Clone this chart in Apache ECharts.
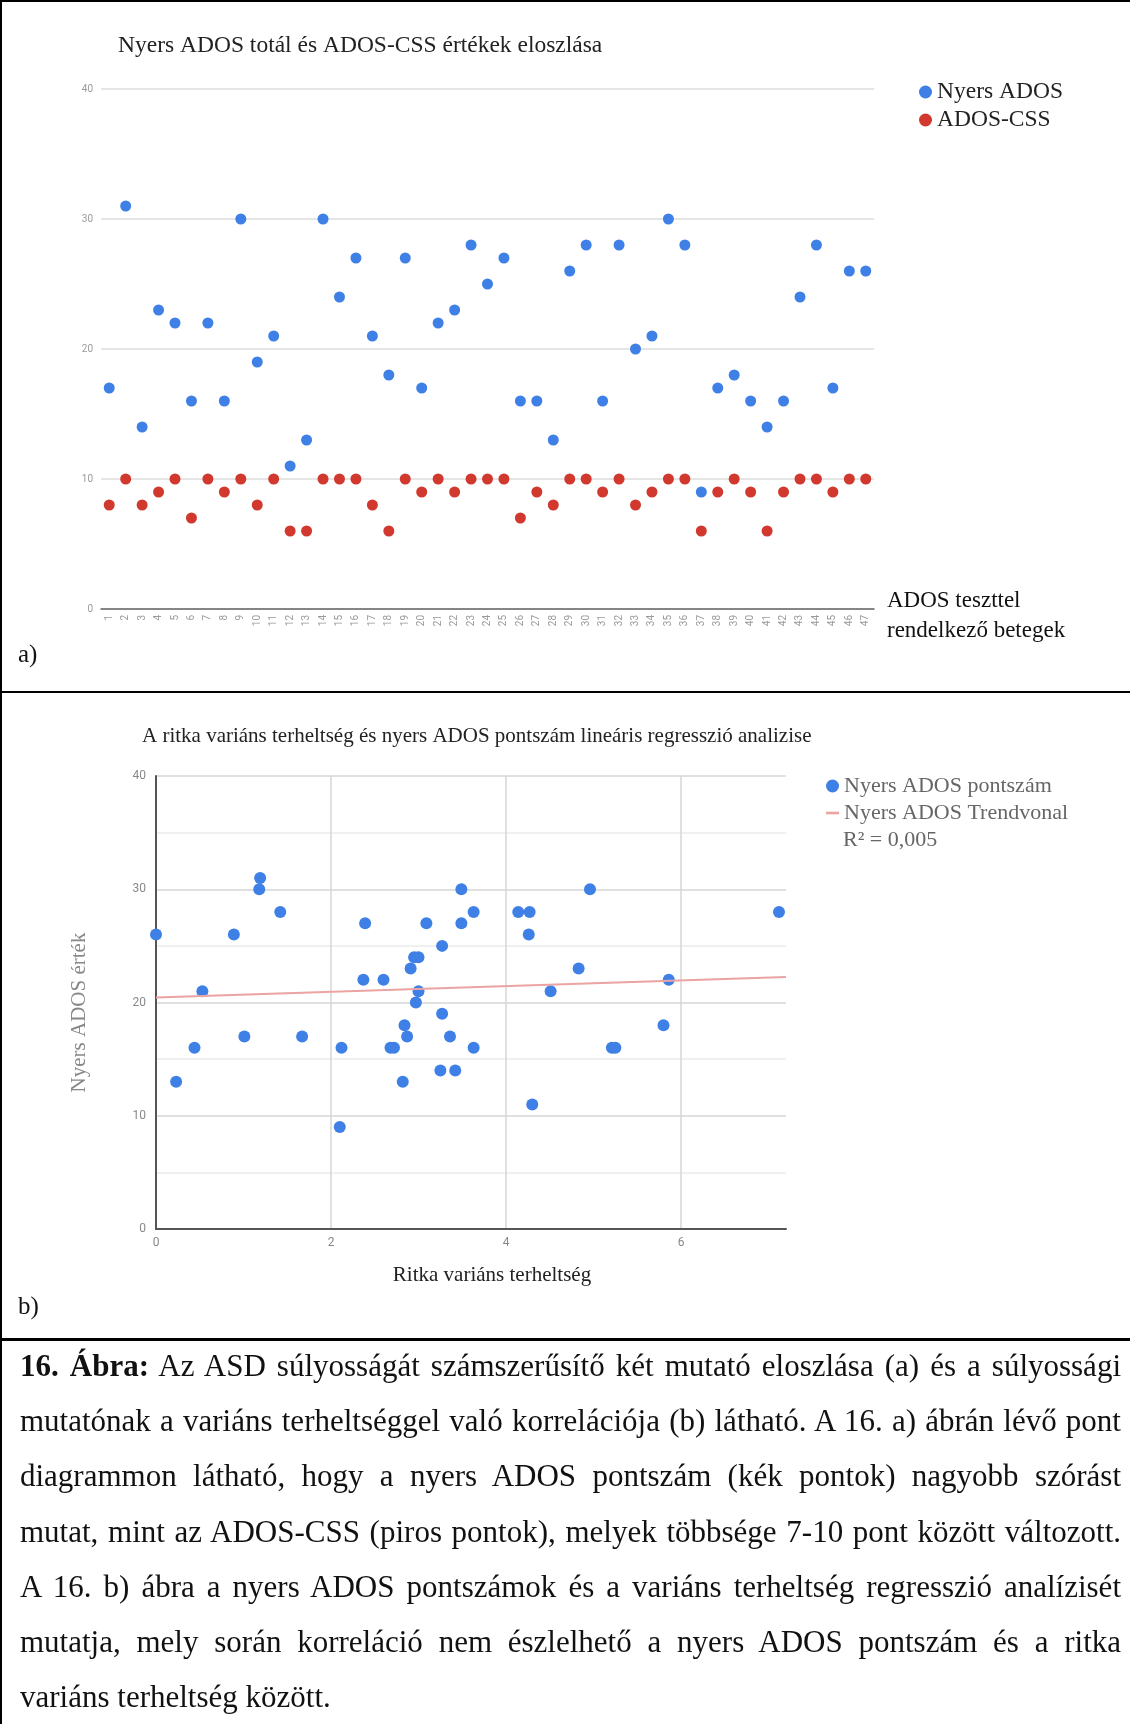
<!DOCTYPE html>
<html>
<head>
<meta charset="utf-8">
<script src="https://cdn.jsdelivr.net/npm/echarts@6/dist/echarts.min.js"></script>
<style>
  body { margin: 0; background: #fff; }
  .page { position: relative; width: 1130px; height: 1724px; overflow: hidden; }
  .chart { position: absolute; left: 0; width: 1130px; }
  #chartA { top: 0; height: 692px; }
  #chartB { top: 692px; height: 647px; }
  .rule { position: absolute; background: #000; }
  .caption {
    position: absolute; left: 20px; top: 1338px; width: 1101px;
    font-family: "Liberation Serif", serif; font-size: 31px; line-height: 55.2px; color: #111;
  }
  .caption div { text-align: justify; text-align-last: justify; white-space: nowrap; }
  .caption div.last { text-align-last: left; }
</style>
</head>
<body>
<div class="page">
  <div class="chart" id="chartA"></div>
  <div class="chart" id="chartB"></div>
  <div class="rule" style="left:0;top:0;width:1130px;height:2px"></div>
  <div class="rule" style="left:0;top:0;width:2px;height:1724px"></div>
  <div class="rule" style="left:0;top:691px;width:1130px;height:2px"></div>
  <div class="rule" style="left:0;top:1338px;width:1130px;height:3px"></div>
  <div class="caption">
    <div><b>16. Ábra:</b> Az ASD súlyosságát számszerűsítő két mutató eloszlása (a) és a súlyossági</div>
    <div>mutatónak a variáns terheltséggel való korrelációja (b) látható. A 16. a) ábrán lévő pont</div>
    <div>diagrammon látható, hogy a nyers ADOS pontszám (kék pontok) nagyobb szórást</div>
    <div>mutat, mint az ADOS-CSS (piros pontok), melyek többsége 7-10 pont között változott.</div>
    <div>A 16. b) ábra a nyers ADOS pontszámok és a variáns terheltség regresszió analízisét</div>
    <div>mutatja, mely során korreláció nem észlelhető a nyers ADOS pontszám és a ritka</div>
    <div class="last">variáns terheltség között.</div>
  </div>
</div>
<script>
// a) betegek sorszáma és pontszámok
const betegek = [];
for (let i = 1; i <= 47; i++) betegek.push(String(i));
const nyersAdos = [17, 31, 14, 23, 22, 16, 22, 16, 30, 19, 21, 11, 13, 30, 24, 27, 21, 18, 27, 17,
  22, 23, 28, 25, 27, 16, 16, 13, 26, 28, 16, 28, 20, 21, 30, 28, 9, 17, 18, 16,
  14, 16, 24, 28, 17, 26, 26];
const adosCss = [8, 10, 8, 9, 10, 7, 10, 9, 10, 8, 10, 6, 6, 10, 10, 10, 8, 6, 10, 9,
  10, 9, 10, 10, 10, 7, 9, 8, 10, 10, 9, 10, 8, 9, 10, 10, 6, 9, 10, 9,
  6, 9, 10, 10, 9, 10, 10];

// b) ritka variáns terheltség vs nyers ADOS
const terheltseg = [0, 0.23, 0.44, 0.53, 0.89, 1.01, 1.19, 1.18, 1.42, 1.67, 2.10, 2.12, 2.37, 2.39, 2.60,
  2.68, 2.72, 2.82, 2.84, 2.87, 2.91, 2.95, 3.0, 2.97, 3.0, 3.09, 3.27, 3.27, 3.25, 3.36,
  3.42, 3.49, 3.49, 3.63, 3.63, 4.14, 4.27, 4.26, 4.30, 4.51, 4.83, 4.96, 5.21, 5.25, 5.80,
  5.86, 7.12];
const adosPont = [26, 13, 16, 21, 26, 17, 31, 30, 28, 17, 9, 16, 22, 27, 22,
  16, 16, 13, 18, 17, 23, 24, 24, 20, 21, 27, 25, 19, 14, 17,
  14, 30, 27, 28, 16, 28, 28, 26, 11, 21, 23, 30, 16, 16, 18,
  22, 28];
const trendX = [0, 7.2];
const trendY = [20.45, 22.25];

const serif = "Liberation Serif";
const blue = "#3f80e6";
const red = "#d1392e";
const pink = "#eba3a3";

let chartA = echarts.init(document.getElementById("chartA"));
chartA.setOption({
  animation: false,
  title: {
    text: "Nyers ADOS totál és ADOS-CSS értékek eloszlása",
    left: 113,
    top: 29,
    textStyle: { fontFamily: serif, fontWeight: "normal", fontSize: 23.5, color: "#222" }
  },
  legend: {
    orient: "vertical",
    left: 914,
    top: 75,
    itemGap: 4,
    itemWidth: 13,
    itemHeight: 13,
    icon: "circle",
    textStyle: { fontFamily: serif, fontSize: 23.5, color: "#222" },
    data: ["Nyers ADOS", "ADOS-CSS"]
  },
  grid: { left: 101, right: 256, top: 89, bottom: 83 },
  xAxis: {
    type: "category",
    data: betegek,
    boundaryGap: true,
    axisLine: { lineStyle: { color: "#666", width: 1.5 } },
    axisTick: { show: false },
    axisLabel: { rotate: 90, interval: 0, fontSize: 10, color: "#9a9a9a", fontFamily: "Roboto", margin: 6 }
  },
  yAxis: {
    type: "value",
    min: 0,
    max: 40,
    interval: 10,
    axisLine: { show: false },
    axisTick: { show: false },
    axisLabel: { fontSize: 10, color: "#9a9a9a", fontFamily: "Roboto", margin: 8 },
    splitLine: { lineStyle: { color: "#dcdcdc", width: 1.5 } }
  },
  graphic: [
    { type: "text", left: 887, top: 589, style: { text: "ADOS teszttel", font: "23px " + serif, fill: "#111" } },
    { type: "text", left: 887, top: 619, style: { text: "rendelkező betegek", font: "23px " + serif, fill: "#111" } },
    { type: "text", left: 18, top: 643, style: { text: "a)", font: "25px " + serif, fill: "#111" } }
  ],
  series: [
    {
      name: "Nyers ADOS",
      type: "scatter",
      symbolSize: 11,
      itemStyle: { color: blue, opacity: 1 },
      data: nyersAdos
    },
    {
      name: "ADOS-CSS",
      type: "scatter",
      symbolSize: 11,
      itemStyle: { color: red, opacity: 1 },
      data: adosCss
    }
  ]
});

let chartB = echarts.init(document.getElementById("chartB"));
chartB.setOption({
  animation: false,
  title: {
    text: "A ritka variáns terheltség és nyers ADOS pontszám lineáris regresszió analizise",
    left: 137,
    top: 29,
    textStyle: { fontFamily: serif, fontWeight: "normal", fontSize: 21, color: "#222" }
  },
  legend: {
    orient: "vertical",
    left: 821,
    top: 78,
    itemGap: 5,
    itemWidth: 13,
    itemHeight: 13,
    textStyle: { fontFamily: serif, fontSize: 22, color: "#666" },
    data: [
      { name: "Nyers ADOS pontszám", icon: "circle" },
      { name: "Nyers ADOS Trendvonal", icon: "path://M0,0H20V4H0Z", itemStyle: { color: pink } }
    ]
  },
  grid: { left: 156, right: 344, top: 84, bottom: 110 },
  xAxis: {
    type: "value",
    min: 0,
    max: 7.2,
    interval: 2,
    name: "Ritka variáns terheltség",
    nameLocation: "middle",
    nameGap: 36,
    nameTextStyle: { fontFamily: serif, fontSize: 21, color: "#222", padding: [0, 0, 0, 42] },
    axisLine: { onZero: false, lineStyle: { color: "#555", width: 2 } },
    axisTick: { show: false },
    axisLabel: { fontSize: 12, color: "#888", fontFamily: "Roboto", margin: 8, showMaxLabel: false },
    splitLine: { show: true, showMinLine: false, showMaxLine: false, lineStyle: { color: "#d6d6d6", width: 1.5 } }
  },
  yAxis: {
    type: "value",
    min: 0,
    max: 40,
    interval: 10,
    name: "Nyers ADOS érték",
    nameLocation: "middle",
    nameGap: 66,
    nameRotate: 90,
    nameTextStyle: { fontFamily: serif, fontSize: 21, color: "#888", padding: [0, 20, 0, 0] },
    axisLine: { show: true, onZero: false, lineStyle: { color: "#555", width: 2 } },
    axisTick: { show: false },
    axisLabel: { fontSize: 12, color: "#888", fontFamily: "Roboto", margin: 10 },
    splitLine: { lineStyle: { color: "#d6d6d6", width: 1.5 } },
    minorTick: { show: false, splitNumber: 2 },
    minorSplitLine: { show: true, lineStyle: { color: "#ececec", width: 1.5 } }
  },
  graphic: [
    { type: "text", left: 843, top: 137, style: { text: "R² = 0,005", font: "22px " + serif, fill: "#666" } },
    { type: "text", left: 18, top: 603, style: { text: "b)", font: "25px " + serif, fill: "#111" } }
  ],
  series: [
    {
      name: "Nyers ADOS Trendvonal",
      type: "line",
      showSymbol: false,
      symbol: "none",
      lineStyle: { color: pink, width: 2 },
      itemStyle: { color: pink },
      data: trendX.map((x, i) => [x, trendY[i]])
    },
    {
      name: "Nyers ADOS pontszám",
      type: "scatter",
      symbolSize: 12,
      itemStyle: { color: blue, opacity: 1 },
      data: terheltseg.map((x, i) => [x, adosPont[i]])
    }
  ]
});
</script>
</body>
</html>
